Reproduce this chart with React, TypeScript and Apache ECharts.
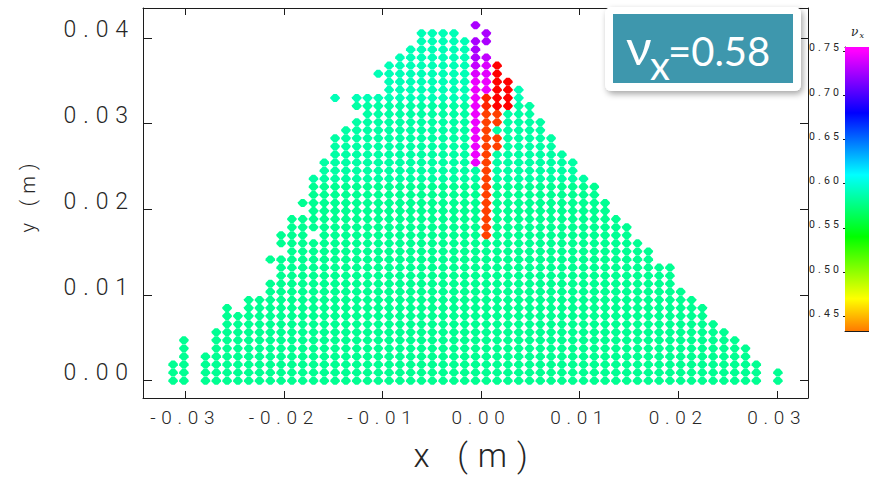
import { useEffect, useRef } from "react";
import * as echarts from "echarts";

// Particle lattice: column c sits at x = COL_ZERO_X + c * COL_PITCH, row r at y = r * ROW_PITCH (m)
const COL_PITCH = 0.0010953;
const ROW_PITCH = 0.000943;
const COL_ZERO_X = -0.00056;

// First and last occupied column of every lattice row, bottom row (0) to apex (44)
const rowFirstCol = [
  -28, -28, -28, -27, -27, -27, -24, -23, -23, -23,
  -21, -19, -19, -18, -18, -19, -17, -18, -18, -17,
  -17, -15, -16, -15, -15, -15, -14, -14, -13, -13,
  -13, -12, -11, -10, -11, -13, -8, -8, -9, -8,
  -7, -6, -5, -5, 0,
];
const rowLastCol = [
  28, 28, 26, 25, 25, 24, 23, 22, 21, 21,
  20, 19, 18, 18, 18, 16, 16, 15, 14, 14,
  13, 12, 12, 11, 11, 10, 9, 9, 8, 7,
  7, 6, 6, 5, 5, 4, 4, 3, 2, 2,
  1, 0, 1, 1, 0,
];
// Vacant sites inside those spans: [row, col]
const emptySites: [number, number][] = [
  [0, -26], [0, 27], [1, -26], [1, 27], [2, -26], [3, -26],
  [4, -26], [4, -25], [5, -26], [5, -25], [9, -22], [18, -15],
  [35, -12], [43, -1], [43, 0],
];
// Tune of the bulk of each row
const rowNu = [
  0.58, 0.58, 0.58, 0.58, 0.58, 0.58, 0.58, 0.58, 0.58, 0.58,
  0.58, 0.58, 0.58, 0.58, 0.58, 0.58, 0.58, 0.58, 0.58, 0.58,
  0.58, 0.58, 0.58, 0.58, 0.58, 0.585, 0.585, 0.585, 0.585, 0.585,
  0.585, 0.585, 0.585, 0.585, 0.585, 0.59, 0.59, 0.59, 0.59, 0.59,
  0.59, 0.59, 0.59, 0.59, 0.59,
];
// Particles with a different tune: [row, col, nu]
const shiftedSites: [number, number, number][] = [
  [44, 0, 0.727], [42, 0, 0.727], [41, 0, 0.727], [40, 0, 0.728], [39, 0, 0.734], [38, 0, 0.74],
  [37, 0, 0.745], [36, 0, 0.745], [35, 0, 0.745], [34, 0, 0.745], [33, 0, 0.745], [32, 0, 0.745],
  [31, 0, 0.745], [30, 0, 0.745], [29, 0, 0.745], [28, 0, 0.745], [27, 0, 0.745],
  [43, 1, 0.727], [42, 1, 0.727], [40, 1, 0.733], [39, 1, 0.74], [38, 1, 0.742], [37, 1, 0.745], [36, 1, 0.745],
  [35, 1, 0.41], [34, 1, 0.41],
  [33, 1, 0.4175], [32, 1, 0.4175], [31, 1, 0.4175], [30, 1, 0.4175], [29, 1, 0.4175], [28, 1, 0.4175],
  [27, 1, 0.4175], [26, 1, 0.4175], [25, 1, 0.4175], [24, 1, 0.4175], [23, 1, 0.4175], [22, 1, 0.4175],
  [21, 1, 0.4175], [20, 1, 0.4175], [19, 1, 0.4175], [18, 1, 0.4175],
  [39, 2, 0.4], [38, 2, 0.4], [37, 2, 0.4], [36, 2, 0.4], [35, 2, 0.4], [34, 2, 0.4],
  [33, 2, 0.4175], [32, 2, 0.4175], [30, 2, 0.4175], [29, 2, 0.4175],
  [37, 3, 0.4], [36, 3, 0.4], [35, 3, 0.4], [34, 3, 0.4],
];

const xTicks = [-0.03, -0.02, -0.01, 0, 0.01, 0.02, 0.03];
const yTicks = [0, 0.01, 0.02, 0.03, 0.04];
const nuTicks = [0.45, 0.5, 0.55, 0.6, 0.65, 0.7, 0.75];
const X_RANGE = [-0.03428, 0.03316];
const Y_RANGE = [-0.00202, 0.0435];
const NU_SCALE = [0.4, 0.75];
const NU_BAR = [0.4336, 0.7545];
const NU_X = 0.58;

// Hue ramp red -> yellow -> green -> cyan -> blue -> magenta
const nuPalette = ["#ff0000", "#ffff00", "#00ff00", "#00ffff", "#0000ff", "#ff00ff"];

const AXIS = "#1c1c1c";
const TEXT = "#262626";
const FONT = "Roboto";

function hexRgb(h: string) {
  return [1, 3, 5].map((i) => parseInt(h.slice(i, i + 2), 16));
}
function paletteAt(v: number) {
  const n = nuPalette.length;
  const t = Math.min(Math.max((v - NU_SCALE[0]) / (NU_SCALE[1] - NU_SCALE[0]), 0), 1) * (n - 1);
  const i = Math.min(Math.floor(t), n - 2);
  const f = t - i;
  const a = hexRgb(nuPalette[i]);
  const b = hexRgb(nuPalette[i + 1]);
  const c = a.map((x, k) => Math.round(x + (b[k] - x) * f));
  return `rgb(${c[0]},${c[1]},${c[2]})`;
}
function colorBarGradient() {
  const span = NU_BAR[1] - NU_BAR[0];
  const values = [NU_BAR[1], NU_BAR[0]];
  nuPalette.forEach((_, k) => {
    const v = NU_SCALE[0] + (k * (NU_SCALE[1] - NU_SCALE[0])) / (nuPalette.length - 1);
    if (v > NU_BAR[0] && v < NU_BAR[1]) values.push(v);
  });
  const stops = values
    .map((v) => ({ offset: (NU_BAR[1] - v) / span, color: paletteAt(v) }))
    .sort((a, b) => a.offset - b.offset);
  return new echarts.graphic.LinearGradient(0, 0, 0, 1, stops);
}

function buildParticles() {
  const empty = new Set(emptySites.map(([r, c]) => `${r}:${c}`));
  const shifted = new Map(shiftedSites.map(([r, c, v]) => [`${r}:${c}`, v] as [string, number]));
  const pts: number[][] = [];
  rowFirstCol.forEach((first, r) => {
    for (let c = first; c <= rowLastCol[r]; c++) {
      const key = `${r}:${c}`;
      if (empty.has(key)) continue;
      pts.push([COL_ZERO_X + c * COL_PITCH, r * ROW_PITCH, shifted.get(key) ?? rowNu[r]]);
    }
  });
  return pts;
}

const fmt2 = (v: number) => (Math.abs(v) < 1e-12 ? 0 : v).toFixed(2);
const lineStyle = { color: AXIS, width: 1 };

function buildOption(): echarts.EChartsOption {
  const frameAxis = {
    type: "value" as const,
    gridIndex: 0,
    axisLine: { show: true, onZero: false, lineStyle },
    splitLine: { show: false },
  };
  return {
    animation: false,
    backgroundColor: "#ffffff",
    grid: [
      { left: 143, top: 8, width: 665, height: 390 },
      { left: 845, top: 47, width: 24, height: 284 },
    ],
    xAxis: [
      {
        ...frameAxis,
        position: "bottom",
        min: X_RANGE[0],
        max: X_RANGE[1],
        axisTick: { show: true, inside: true, length: 7, customValues: xTicks, lineStyle },
        axisLabel: {
          customValues: xTicks,
          formatter: fmt2,
          margin: 10,
          fontSize: 19,
          fontFamily: FONT,
          fontWeight: 300,
          color: TEXT,
        },
        name: "x (m)",
        nameLocation: "middle",
        nameGap: 41,
        nameMoveOverlap: false,
        nameTextStyle: { fontSize: 33, fontFamily: FONT, fontWeight: 300, color: TEXT },
      },
      {
        ...frameAxis,
        position: "top",
        min: X_RANGE[0],
        max: X_RANGE[1],
        axisTick: { show: true, inside: true, length: 7, customValues: xTicks, lineStyle },
        axisLabel: { show: false },
      },
      {
        type: "category",
        gridIndex: 1,
        data: ["nu"],
        position: "bottom",
        axisLine: { show: true, lineStyle },
        axisTick: { show: false },
        axisLabel: { show: false },
      },
      {
        type: "category",
        gridIndex: 1,
        data: ["nu"],
        position: "top",
        axisLine: { show: true, lineStyle },
        axisTick: { show: false },
        axisLabel: { show: false },
      },
    ],
    yAxis: [
      {
        ...frameAxis,
        position: "left",
        min: Y_RANGE[0],
        max: Y_RANGE[1],
        axisTick: { show: true, inside: true, length: 9, customValues: yTicks, lineStyle },
        axisLabel: {
          customValues: yTicks,
          formatter: fmt2,
          margin: 8,
          fontSize: 23,
          lineHeight: 16,
          verticalAlign: "bottom",
          fontFamily: FONT,
          fontWeight: 300,
          color: TEXT,
        },
      },
      {
        ...frameAxis,
        position: "right",
        min: Y_RANGE[0],
        max: Y_RANGE[1],
        axisTick: { show: true, inside: true, length: 8, customValues: yTicks, lineStyle },
        axisLabel: { show: false },
      },
      {
        type: "value",
        gridIndex: 1,
        position: "left",
        min: NU_BAR[0],
        max: NU_BAR[1],
        axisLine: { show: true, onZero: false, lineStyle },
        axisTick: { show: true, inside: false, length: 2, customValues: nuTicks, lineStyle },
        axisLabel: {
          customValues: nuTicks,
          formatter: fmt2,
          margin: 3,
          fontSize: 10.5,
          lineHeight: 6,
          verticalAlign: "bottom",
          fontFamily: FONT,
          fontWeight: 400,
          color: TEXT,
        },
        splitLine: { show: false },
      },
    ],
    visualMap: {
      type: "continuous",
      show: false,
      seriesIndex: 0,
      dimension: 2,
      min: NU_SCALE[0],
      max: NU_SCALE[1],
      inRange: { color: nuPalette },
    },
    series: [
      {
        type: "scatter",
        xAxisIndex: 0,
        yAxisIndex: 0,
        data: buildParticles(),
        symbol: "path://M-1.5,-4L1.5,-4L4.5,-0.7L4.5,0.7L1.5,4L-1.5,4L-4.5,0.7L-4.5,-0.7Z",
        symbolSize: [9.5, 8],
        itemStyle: { opacity: 1 },
        silent: true,
        z: 3,
      },
      {
        type: "bar",
        xAxisIndex: 2,
        yAxisIndex: 2,
        data: [NU_BAR[1]],
        barWidth: "100%",
        itemStyle: { color: colorBarGradient() },
        silent: true,
        z: 1,
      },
    ],
    graphic: [
      {
        // y-axis title, running bottom to top beside the tick labels
        type: "text",
        z: 50,
        x: 28,
        y: 195,
        rotation: Math.PI / 2,
        style: {
          text: "y (m)",
          fontSize: 20,
          fontFamily: FONT,
          fontWeight: 300,
          fill: TEXT,
          align: "center",
          verticalAlign: "middle",
        },
      },
      {
        type: "rect",
        z: 100,
        shape: { x: 605, y: 7, width: 196, height: 84, r: 6 },
        style: {
          fill: "#ffffff",
          shadowBlur: 6,
          shadowOffsetX: 2,
          shadowOffsetY: 3,
          shadowColor: "rgba(0,0,0,0.35)",
        },
      },
      {
        type: "rect",
        z: 101,
        shape: { x: 613, y: 14, width: 180, height: 69 },
        style: { fill: "#3e97ad" },
      },
      {
        type: "text",
        z: 102,
        x: 626,
        y: 46,
        style: { text: "ν", fontSize: 50, fontFamily: "Lato", fill: "#ffffff", align: "left", verticalAlign: "middle" },
      },
      {
        type: "text",
        z: 102,
        x: 650,
        y: 65,
        style: { text: "x", fontSize: 40, fontFamily: "Lato", fill: "#ffffff", align: "left", verticalAlign: "middle" },
      },
      {
        type: "text",
        z: 102,
        x: 668,
        y: 51,
        style: {
          text: `=${NU_X.toFixed(2)}`,
          fontSize: 40,
          fontFamily: "Lato",
          fill: "#ffffff",
          align: "left",
          verticalAlign: "middle",
        },
      },
      {
        type: "text",
        z: 102,
        x: 851,
        y: 32,
        style: { text: "ν", fontSize: 12, fontStyle: "italic", fontFamily: "DejaVu Serif", fill: TEXT, align: "left", verticalAlign: "middle" },
      },
      {
        type: "text",
        z: 102,
        x: 859.5,
        y: 35.5,
        style: { text: "x", fontSize: 8, fontStyle: "italic", fontFamily: "DejaVu Serif", fill: TEXT, align: "left", verticalAlign: "middle" },
      },
    ],
  };
}

const css = `.tune-plot text[style*="Roboto"]{letter-spacing:0.3em;}`;

export default function App() {
  const ref = useRef<HTMLDivElement>(null);
  useEffect(() => {
    if (!ref.current) return;
    const chart = echarts.init(ref.current, null, { renderer: "svg" });
    chart.setOption(buildOption());
    return () => chart.dispose();
  }, []);
  return (
    <>
      <style>{css}</style>
      <div
        ref={ref}
        className="tune-plot"
        style={{ position: "absolute", left: 0, top: 0, width: 869, height: 482, background: "#ffffff" }}
      />
    </>
  );
}
